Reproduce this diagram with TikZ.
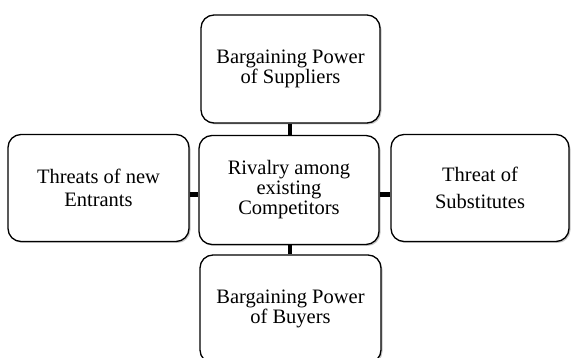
\documentclass[tikz,border=0pt]{standalone}
\usepackage{fontspec}
\setmainfont{Liberation Serif}
\usetikzlibrary{shadows}
\begin{document}
\begin{tikzpicture}[x=1pt,y=-1pt,
  force/.style={draw=black, line width=1.3pt, rounded corners=13pt, fill=white,
    drop shadow={shadow xshift=1.5pt, shadow yshift=-1.5pt, opacity=0.45, fill=gray},
    align=center, inner sep=0pt, font=\fontsize{20.5}{19.5}\selectfont},
  link/.style={line width=4.5pt, black}]
\useasboundingbox (0,0) rectangle (571,358);
\clip (0,0) rectangle (571,358);
\node[force, minimum width=179pt, minimum height=108pt] (sup) at (290.5,69) {Bargaining Power\\of Suppliers};
\node[force, minimum width=180pt, minimum height=109pt, font=\fontsize{20.5}{20}\selectfont] (riv) at (289,190) {Rivalry among\\existing\\Competitors};
\node[force, minimum width=181pt, minimum height=107pt, font=\fontsize{20.5}{23}\selectfont] (ent) at (98.5,188) {Threats of new\\Entrants};
\node[force, minimum width=178pt, minimum height=107pt, font=\fontsize{20.5}{27}\selectfont] (sub) at (480,188) {Threat of\\Substitutes};
\node[force, minimum width=181pt, minimum height=108pt] (buy) at (290.5,309) {Bargaining Power\\of Buyers};
\draw[link] (sup.south -| 290,0) -- (riv.north -| 290,0);
\draw[link] (riv.south -| 290,0) -- (buy.north -| 290,0);
\draw[link] (ent.east |- 0,194.5) -- (riv.west |- 0,194.5);
\draw[link] (riv.east |- 0,194.5) -- (sub.west |- 0,194.5);
\end{tikzpicture}
\end{document}
